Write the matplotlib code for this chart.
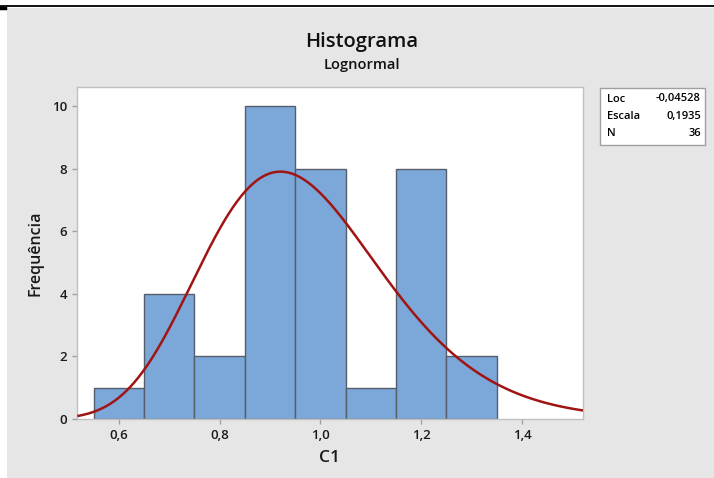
import numpy as np
import matplotlib
matplotlib.use("Agg")
import matplotlib.pyplot as plt
from matplotlib.patches import Rectangle

# histogram data (C1), bins of width 0,1
bin_edges = [0.55, 0.65, 0.75, 0.85, 0.95, 1.05, 1.15, 1.25, 1.35]
counts = [1, 4, 2, 10, 8, 1, 8, 2]
xticks = [0.6, 0.8, 1.0, 1.2, 1.4]
xtick_labels = ["0,6", "0,8", "1,0", "1,2", "1,4"]
yticks = [0, 2, 4, 6, 8, 10]

# fitted lognormal parameters shown in the box
loc = -0.04528
escala = 0.1935
n_obs = 36
stats_labels = ["Loc", "Escala", "N"]
stats_values = ["-0,04528", "0,1935", "36"]

plt.rcParams['font.family'] = ['Open Sans', 'DejaVu Sans']

W, H = 714, 478
fig = plt.figure(figsize=(W / 100, H / 100), dpi=100, facecolor='white')

# gray panel of the screenshot
fig.patches.append(Rectangle((7 / W, 0), 1 - 7 / W, 1 - 8 / H, transform=fig.transFigure,
                             facecolor='#e6e6e6', edgecolor='none', zorder=-5))
fig.add_artist(plt.Line2D([0, 1], [1 - 6 / H, 1 - 6 / H], transform=fig.transFigure,
                          color='black', lw=1.3))
fig.add_artist(plt.Line2D([0, 5 / W], [1 - 8 / H, 1 - 8 / H], transform=fig.transFigure,
                          color='black', lw=2.5))

ax = fig.add_axes([77 / W, 1 - 419 / H, (583 - 77) / W, (419 - 87) / H])
ax.set_zorder(2)
ax.set_facecolor('white')

widths = np.diff(bin_edges)
ax.bar(bin_edges[:-1], counts, width=widths, align='edge', color='#7ba7d9',
       edgecolor='#555f6b', linewidth=1.0, zorder=2)

# lognormal fit curve scaled to the histogram
bw = bin_edges[1] - bin_edges[0]
xs = np.linspace(0.52, 1.53, 400)
pdf = np.exp(-(np.log(xs) - loc) ** 2 / (2 * escala ** 2)) / (xs * escala * np.sqrt(2 * np.pi))
ax.plot(xs, pdf * n_obs * bw, color='#a01414', lw=1.8, zorder=3, clip_on=True)

ax.set_xlim(0.517, 1.521)
ax.set_ylim(0, 10.62)
ax.set_xticks(xticks, xtick_labels)
ax.set_yticks(yticks)
ax.tick_params(axis='both', colors='#a0a0a0', labelcolor='#1a1a1a', labelsize=9.5,
               length=3.5, width=1)
for lbl in ax.get_xticklabels() + ax.get_yticklabels():
    lbl.set_fontweight('semibold')
for s in ax.spines.values():
    s.set_color('#c0c0c0')
    s.set_linewidth(1)

ax.set_xlabel("C1", fontsize=12.5, color='#1a1a1a', fontweight='semibold', labelpad=6)
ax.set_ylabel("Frequência", fontsize=11.5, color='#1a1a1a', fontweight='semibold', labelpad=6)

fig.text(362 / W, 1 - 42 / H, "Histograma", ha='center', va='center', fontsize=14.5,
         fontweight='semibold', color='#111111')
fig.text(362 / W, 1 - 65 / H, "Lognormal", ha='center', va='center', fontsize=10.5,
         fontweight='semibold', color='#111111')

# stats box
fig.patches.append(Rectangle((600 / W, 1 - 145 / H), 105 / W, 57 / H, transform=fig.transFigure,
                             facecolor='white', edgecolor='#a0a0a0', lw=1, zorder=1))
for i, (lab, val) in enumerate(zip(stats_labels, stats_values)):
    y = 1 - (99 + i * 17.5) / H
    fig.text(607 / W, y, lab, ha='left', va='center', fontsize=8, fontweight='semibold', zorder=2)
    fig.text(701 / W, y, val, ha='right', va='center', fontsize=8, fontweight='semibold', zorder=2)

fig.savefig("out.png", dpi=100, facecolor=fig.get_facecolor())
